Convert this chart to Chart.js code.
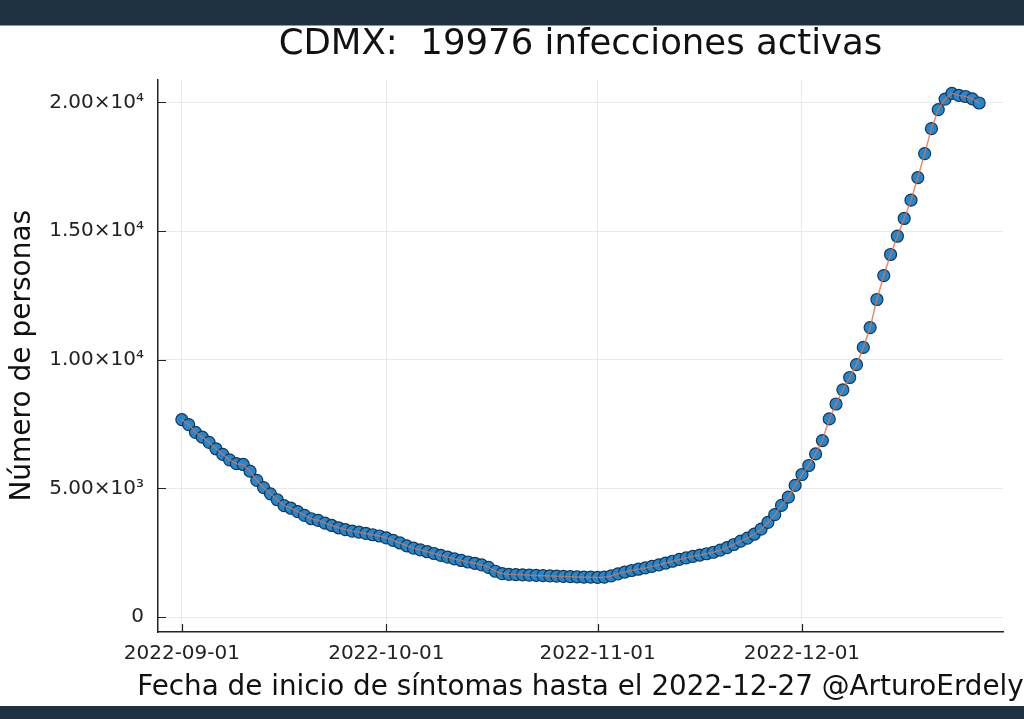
<!DOCTYPE html>
<html>
<head>
<meta charset="utf-8">
<script src="https://cdn.jsdelivr.net/npm/chart.js@4"></script>
<style>
  html, body { margin: 0; padding: 0; background: #1e3241; }
  #wrap { position: absolute; left: 0; top: 25px; width: 1024px; height: 681px; background: #fff; border-top: 1px solid #8d979e; box-sizing: border-box; }
</style>
</head>
<body>
<div id="wrap"><canvas id="myChart"></canvas></div>
<script>
// active infections per day, starting 2022-09-01
const startDate = '2022-09-01';
const activeCases = [
  7670, 7480, 7180, 6990, 6790, 6540, 6320, 6110, 5960, 5930,
  5670, 5310, 5030, 4790, 4560, 4330, 4230, 4100, 3950, 3820,
  3760, 3650, 3560, 3470, 3400, 3340, 3300, 3250, 3200, 3150,
  3080, 2980, 2880, 2770, 2680, 2610, 2540, 2470, 2400, 2330,
  2260, 2200, 2140, 2090, 2030, 1930, 1780, 1690, 1660, 1650,
  1640, 1630, 1620, 1610, 1600, 1590, 1580, 1570, 1560, 1550,
  1550, 1540, 1550, 1600, 1680, 1750, 1810, 1860, 1910, 1970,
  2030, 2100, 2170, 2240, 2300, 2360, 2410, 2460, 2520, 2600,
  2700, 2820, 2950, 3070, 3220, 3420, 3680, 3980, 4340, 4660,
  5120, 5540, 5890, 6340, 6860, 7700, 8280, 8830, 9310, 9810,
  10480, 11250, 12340, 13270, 14090, 14800, 15490, 16200, 17080, 18010,
  18980, 19720, 20130, 20350, 20270, 20230, 20140, 19976
];
const days = activeCases.map((_, i) => i);

const xTickDays = [0, 30, 61, 91];
const xTickLabels = ['2022-09-01', '2022-10-01', '2022-11-01', '2022-12-01'];
const yTickValues = [0, 5000, 10000, 15000, 20000];
const yTickLabels = ['0', '5.00×10³', '1.00×10⁴', '1.50×10⁴', '2.00×10⁴'];
const xTitle = 'Fecha de inicio de síntomas hasta el 2022-12-27 @ArturoErdely';

const ctx = document.getElementById('myChart');

Chart.defaults.font.family = 'DejaVu Sans';
Chart.defaults.color = '#222';

// Plots-style ticks pointing into the plot, plus the x title (allowed to run past the edge)
const innerTicks = {
  id: 'innerTicks',
  afterDraw(chart) {
    const { ctx, chartArea, scales } = chart;
    ctx.save();
    ctx.strokeStyle = '#222';
    ctx.lineWidth = 1.2;
    ctx.beginPath();
    xTickDays.forEach(d => {
      const px = Math.round(scales.x.getPixelForValue(d)) + 0.5;
      ctx.moveTo(px, chartArea.bottom);
      ctx.lineTo(px, chartArea.bottom - 8);
    });
    yTickValues.forEach(v => {
      const py = Math.round(scales.y.getPixelForValue(v)) + 0.5;
      ctx.moveTo(chartArea.left, py);
      ctx.lineTo(chartArea.left + 8, py);
    });
    ctx.stroke();

    ctx.fillStyle = '#111';
    ctx.font = '27.8px "DejaVu Sans"';
    ctx.textAlign = 'center';
    ctx.textBaseline = 'middle';
    ctx.fillText(xTitle, (chartArea.left + chartArea.right) / 2, chartArea.bottom + 56);
    ctx.restore();
  }
};

new Chart(ctx, {
  type: 'scatter',
  data: {
    datasets: [{
      type: 'line',
      data: days.map(d => ({ x: d, y: activeCases[d] })),
      borderColor: 'rgba(226, 111, 70, 0.8)',
      borderWidth: 1.5,
      pointRadius: 0,
      fill: false,
      order: 0,
    }, {
      data: days.map(d => ({ x: d, y: activeCases[d] })),
      backgroundColor: '#1f88d2',
      borderColor: '#1b3550',
      borderWidth: 1.2,
      pointRadius: 6,
      order: 1,
    }],
  },
  options: {
    responsive: true,
    maintainAspectRatio: false,
    animation: false,
    layout: { padding: { left: 0, right: 21, top: 0, bottom: 0 } },
    scales: {
      x: {
        type: 'linear',
        min: -3.5,
        max: 120.5,
        afterFit: s => { s.height = 74; },
        afterBuildTicks: s => { s.ticks = xTickDays.map(v => ({ value: v })); },
        ticks: {
          font: { size: 20 },
          padding: 10,
          maxRotation: 0,
          callback: v => xTickLabels[xTickDays.indexOf(v)],
        },
        grid: { color: '#e9e9e9', lineWidth: 1, drawTicks: false },
        border: { display: true, color: '#222', width: 1.5 },
      },
      y: {
        min: -580,
        max: 20890,
        afterFit: s => { s.width = 158; },
        afterBuildTicks: s => { s.ticks = yTickValues.map(v => ({ value: v })); },
        ticks: {
          font: { size: 20 },
          padding: 14,
          callback: v => yTickLabels[yTickValues.indexOf(v)],
        },
        grid: { color: '#e9e9e9', lineWidth: 1, drawTicks: false },
        border: { display: true, color: '#222', width: 1.5 },
        title: {
          display: true,
          text: 'Número de personas',
          font: { size: 28 },
          color: '#111',
          padding: { top: 6, bottom: 0 },
        },
      },
    },
    plugins: {
      legend: false,
      tooltip: { enabled: false },
      title: {
        display: true,
        fullSize: false,
        text: 'CDMX:  19976 infecciones activas',
        font: { size: 35.5, weight: 'normal', lineHeight: 1 },
        color: '#111',
        padding: { top: 1, bottom: 17 },
      },
    },
  },
  plugins: [innerTicks],
});
</script>
</body>
</html>
